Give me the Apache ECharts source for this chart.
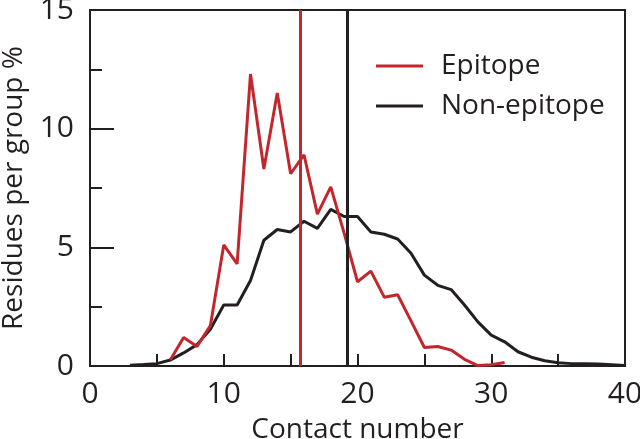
<!DOCTYPE html>
<html>
<head>
<meta charset="utf-8">
<title>Contact number</title>
<script src="https://cdn.jsdelivr.net/npm/echarts@6/dist/echarts.min.js"></script>
<style>
  html, body { margin: 0; padding: 0; background: #fff; }
  #main { width: 640px; height: 439px; }
</style>
</head>
<body>
<div id="main"></div>
<script>
// contact numbers (x) and % of residues per group (y)
var epitopeX = [6, 7, 8, 9, 10, 11, 12, 13, 14, 15, 16, 17, 18, 19, 20, 21, 22, 23, 24, 25, 26, 27, 28, 29, 30, 31];
var epitopeY = [0.25, 1.2, 0.82, 1.7, 5.1, 4.3, 12.3, 8.3, 11.5, 8.1, 8.9, 6.4, 7.55, 5.6, 3.55, 4.0, 2.9, 3.0, 1.9, 0.78, 0.82, 0.67, 0.28, 0.02, 0.05, 0.15];
var nonEpitopeX = [3, 4, 5, 6, 7, 8, 9, 10, 11, 12, 13, 14, 15, 16, 17, 18, 19, 20, 21, 22, 23, 24, 25, 26, 27, 28, 29, 30, 31, 32, 33, 34, 35, 36, 37, 38, 39, 40];
var nonEpitopeY = [0.03, 0.06, 0.1, 0.25, 0.55, 0.9, 1.55, 2.57, 2.57, 3.6, 5.3, 5.75, 5.65, 6.1, 5.8, 6.6, 6.3, 6.3, 5.65, 5.55, 5.35, 4.75, 3.83, 3.4, 3.22, 2.57, 1.86, 1.3, 1.02, 0.6, 0.37, 0.22, 0.14, 0.1, 0.1, 0.08, 0.05, 0.02];
// mean contact number of each group (vertical lines)
var epitopeMean = 15.7;
var nonEpitopeMean = 19.25;

var red = '#c1272d', dark = '#231f20';
var font = 'Open Sans';

function pairs(xs, ys) {
  return xs.map(function (x, i) { return [x, ys[i]]; });
}

var chart = echarts.init(document.getElementById('main'));
chart.setOption({
  animation: false,
  textStyle: { fontFamily: font, color: dark },
  grid: {
    left: 90, right: 15, top: 10, bottom: 73,
    outerBoundsMode: 'none', containLabel: false,
    show: true, borderColor: dark, borderWidth: 2, backgroundColor: 'transparent'
  },
  legend: {
    orient: 'vertical',
    left: 371, top: 46,
    itemWidth: 47, itemHeight: 3, itemGap: 10,
    icon: 'rect',
    textStyle: { fontFamily: font, fontSize: 28, color: dark, lineHeight: 30, padding: [0, 0, 0, 13] },
    data: ['Epitope', 'Non-epitope']
  },
  xAxis: {
    type: 'value', min: 0, max: 40, interval: 10,
    name: 'Contact number', nameLocation: 'middle', nameGap: 50,
    nameTextStyle: { fontFamily: font, fontSize: 28, color: dark },
    axisLine: { show: true, lineStyle: { color: dark, width: 2 } },
    axisTick: { show: true, inside: true, length: 12, lineStyle: { color: dark, width: 2 } },
    minorTick: { show: true, splitNumber: 2, length: 12, lineStyle: { color: dark, width: 2 } },
    axisLabel: { fontFamily: font, fontSize: 30, color: dark, margin: 13 },
    splitLine: { show: false }
  },
  yAxis: {
    type: 'value', min: 0, max: 15, interval: 5,
    name: 'Residues per group %', nameLocation: 'middle', nameGap: 62,
    nameTextStyle: { fontFamily: font, fontSize: 28, color: dark },
    axisLine: { show: true, lineStyle: { color: dark, width: 2 } },
    axisTick: { show: true, inside: true, length: 24, lineStyle: { color: dark, width: 2 } },
    minorTick: { show: true, splitNumber: 2, length: 12, lineStyle: { color: dark, width: 2 } },
    axisLabel: { fontFamily: font, fontSize: 30, color: dark, margin: 16 },
    splitLine: { show: false }
  },
  series: [
    {
      name: 'Non-epitope', type: 'line', showSymbol: false, z: 2,
      color: dark,
      lineStyle: { color: dark, width: 3 },
      data: pairs(nonEpitopeX, nonEpitopeY),
      markLine: {
        silent: true, symbol: 'none', label: { show: false },
        lineStyle: { color: dark, width: 3, type: 'solid' },
        data: [{ xAxis: nonEpitopeMean }]
      }
    },
    {
      name: 'Epitope', type: 'line', showSymbol: false, z: 3,
      color: red,
      lineStyle: { color: red, width: 3 },
      data: pairs(epitopeX, epitopeY),
      markLine: {
        silent: true, symbol: 'none', label: { show: false },
        lineStyle: { color: red, width: 3, type: 'solid' },
        data: [{ xAxis: epitopeMean }]
      }
    }
  ]
});
</script>
</body>
</html>
